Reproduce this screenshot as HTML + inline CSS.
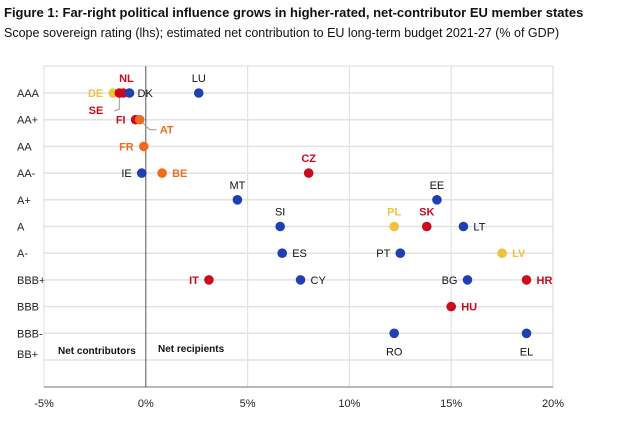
<!DOCTYPE html>
<html><head><meta charset="utf-8"><style>
body{margin:0;background:#fff;font-family:"Liberation Sans",sans-serif;}
</style></head><body>
<svg width="635" height="429" xmlns="http://www.w3.org/2000/svg" font-family="Liberation Sans, sans-serif">
<text x="4" y="17" font-size="13" font-weight="bold" fill="#111">Figure 1: Far-right political influence grows in higher-rated, net-contributor EU member states</text>
<text x="4" y="37" font-size="12.5" fill="#111">Scope sovereign rating (lhs); estimated net contribution to EU long-term budget 2021-27 (% of GDP)</text>
<g id="plot"></g>
</svg>
<script>
const ratings=["AAA","AA+","AA","AA-","A+","A","A-","BBB+","BBB","BBB-","BB+"];
const xTicks=[-5,0,5,10,15,20];
const countries=["NL","DE","SE","DK","LU","FI","AT","FR","IE","BE","CZ","MT","EE","SI","PL","SK","LT","ES","PT","LV","IT","CY","BG","HR","HU","RO","EL"];
const xValues=[-1.1,-1.6,-1.3,-0.8,2.6,-0.5,-0.3,-0.1,-0.2,0.8,8.0,4.5,14.3,6.6,12.2,13.8,15.6,6.7,12.5,17.5,3.1,7.6,15.8,18.7,15.0,12.2,18.7];
const yRatings=["AAA","AAA","AAA","AAA","AAA","AA+","AA+","AA","AA-","AA-","AA-","A+","A+","A","A","A","A","A-","A-","A-","BBB+","BBB+","BBB+","BBB+","BBB","BBB-","BBB-"];
const groups=["red","yellow","red","blue","blue","red","orange","orange","blue","orange","red","blue","blue","blue","yellow","red","blue","blue","blue","yellow","red","blue","blue","red","red","blue","blue"];
const colors={blue:"#1f3fb5",red:"#cc0a1e",orange:"#f26b1d",yellow:"#efc23f"};
const labelCol={blue:"#111",red:"#cc0a1e",orange:"#f26b1d",yellow:"#efc23f"};
const place={NL:[3,-11,"middle"],DE:[-10,4,"end"],SE:[-16,21,"end"],DK:[8,4,"start"],LU:[0,-11,"middle"],FI:[-10,4,"end"],AT:[20,14,"start"],FR:[-10,4,"end"],IE:[-10,4,"end"],BE:[10,4,"start"],CZ:[0,-11,"middle"],MT:[0,-11,"middle"],EE:[0,-11,"middle"],SI:[0,-11,"middle"],PL:[0,-11,"middle"],SK:[0,-11,"middle"],LT:[10,4,"start"],ES:[10,4,"start"],PT:[-10,4,"end"],LV:[10,4,"start"],IT:[-10,4,"end"],CY:[10,4,"start"],BG:[-10,4,"end"],HR:[10,4,"start"],HU:[10,4,"start"],RO:[0,22,"middle"],EL:[0,22,"middle"]};
const L=44,R=553,T=66,B=387,y0=93,dy=26.7;
const xs=v=>L+(v+5)/25*(R-L);
const ys=r=>y0+ratings.indexOf(r)*dy;
const NS="http://www.w3.org/2000/svg";
const g=document.getElementById("plot");
function mk(t,a){const e=document.createElementNS(NS,t);for(const k in a)e.setAttribute(k,a[k]);g.appendChild(e);return e;}
ratings.forEach((r,i)=>{
 const l=mk("line",{x1:L,x2:R,y1:ys(r),y2:ys(r),stroke:"#e2e2e2","stroke-width":1.5});
 
 
 const t=mk("text",{x:17,y:ys(r)+(r==="BB+"?-2:4),"font-size":11,fill:"#222"});
 t.textContent=r;
 
 
});
xTicks.forEach(v=>{
 if(v!==0&&v!==-5){const l=mk("line",{x1:xs(v),x2:xs(v),y1:T,y2:B,stroke:"#e2e2e2","stroke-width":1.2});
 
 }
 const t=mk("text",{x:xs(v),y:407,"font-size":11,fill:"#222","text-anchor":"middle"});
 t.textContent=v+"%";
 
 
});
let e=mk("rect",{x:L,y:T,width:R-L,height:B-T,fill:"none",stroke:"#e2e2e2","stroke-width":1.2});


e=mk("line",{x1:L,x2:R,y1:B,y2:B,stroke:"#777","stroke-width":1});


e=mk("line",{x1:xs(0),x2:xs(0),y1:T,y2:B,stroke:"#555","stroke-width":1});


e=mk("text",{x:58,y:354,"font-size":10,"font-weight":"bold",fill:"#111"});e.textContent="Net contributors";


e=mk("text",{x:158,y:352,"font-size":10,"font-weight":"bold",fill:"#111"});e.textContent="Net recipients";


e=mk("polyline",{points:`${xs(-1.3)},${ys("AAA")+3} ${xs(-1.3)},${ys("AAA")+16} ${xs(-1.3)-5},${ys("AAA")+18}`,fill:"none",stroke:"#999"});


e=mk("polyline",{points:`${xs(-0.3)},${ys("AA+")} ${xs(-0.3)+10},${ys("AA+")+10} ${xs(-0.3)+17},${ys("AA+")+10}`,fill:"none",stroke:"#999"});


countries.forEach((c,i)=>{
 const cx=xs(xValues[i]),cy=ys(yRatings[i]);
 const d=mk("circle",{cx:cx,cy:cy,r:4.8,fill:colors[groups[i]]});
 
 
 const p=place[c];
 const t=mk("text",{x:cx+p[0],y:cy+p[1],"font-size":11,"text-anchor":p[2],fill:labelCol[groups[i]],"font-weight":groups[i]==="blue"?"normal":"bold"});
 t.textContent=c;
 
 
});
</script>
</body></html>
